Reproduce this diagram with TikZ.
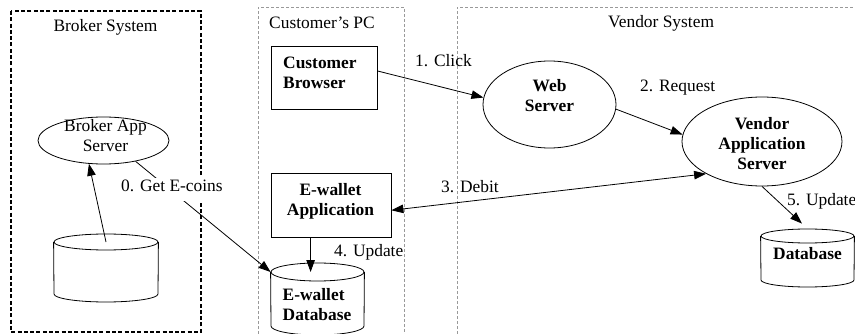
\documentclass[tikz,border=0pt]{standalone}
\usepackage{fontspec}
\setmainfont{Liberation Serif}
\usetikzlibrary{arrows.meta,shapes.geometric}
\begin{document}
\begin{tikzpicture}[x=1pt,y=-1pt,
  txt/.style={font=\fontsize{17.4}{20}\selectfont, inner sep=0pt},
  btxt/.style={inner sep=0pt, font=\fontsize{17.4}{20}\selectfont\bfseries},
  ln/.style={line width=0.8pt},
  arr/.style={ln, -{Triangle[length=12pt,width=8.5pt]}},
  darr/.style={ln, {Triangle[length=12pt,width=8.5pt]}-{Triangle[length=12pt,width=8.5pt]}},
  grayframe/.style={draw=black!40, line width=0.8pt, dash pattern=on 3pt off 2pt},
  blackframe/.style={draw=black, line width=1.5pt, dash pattern=on 4pt off 2.3pt},
  ell/.style={ellipse, draw, line width=0.8pt, inner sep=0pt},
  boxnode/.style={rectangle, draw, line width=0.8pt, inner sep=0pt},
]
\useasboundingbox (0,0) rectangle (855,334);
\clip (0,0) rectangle (855,334);

% frames
\draw[blackframe] (11,11) rectangle (201,332);
\draw[grayframe] (258,334) -- (258,7) -- (404,7) -- (404,334);
\draw[grayframe] (457,334) -- (457,7) -- (856,7);

% titles
\node[txt, anchor=base] (tbroker) at (105.5,32) {Broker System};
\node[txt, anchor=base west] (tpc) at (269,29) {Customer’s PC};
\node[txt, anchor=base west] (tvendor) at (608,28) {Vendor System};

% shapes
\node[ell, minimum width=131pt, minimum height=47pt] (bas) at (103.5,140.5) {};
\node[ell, minimum width=133pt, minimum height=87pt] (web) at (549.5,104.5) {};
\node[ell, minimum width=160pt, minimum height=89pt] (vas) at (762,141.5) {};
\node[boxnode, minimum width=106pt, minimum height=63pt] (cb) at (324,77.5) {};
\node[boxnode, minimum width=120pt, minimum height=64pt] (ewa) at (331,205) {};

% cylinders
\node[ell, minimum width=104pt, minimum height=16pt] (bdbtop) at (106,242) {};
\draw[ln] (bdbtop.west) -- (54,294) arc[start angle=180, end angle=360, x radius=52pt, y radius=8pt] -- (bdbtop.east);

\node[ell, minimum width=93pt, minimum height=18pt] (ewdbtop) at (317.5,272) {};
\draw[ln] (ewdbtop.west) -- (271,326) arc[start angle=180, end angle=360, x radius=46.5pt, y radius=9pt] -- (ewdbtop.east);

\node[ell, minimum width=93pt, minimum height=14pt] (dbtop) at (807.5,236) {};
\draw[ln] (dbtop.west) -- (761,280) arc[start angle=180, end angle=360, x radius=46.5pt, y radius=7pt] -- (dbtop.east);

% texts in shapes
\node[txt, anchor=north, align=center] (tbas) at (105.5,117) {\strut Broker App\\\strut Server};
\node[btxt, anchor=north, align=center] (tweb) at (549.5,77) {\strut Web\\\strut Server};
\node[btxt, anchor=north, align=center] (tvas) at (762,115) {\strut Vendor\\\strut Application\\\strut Server};
\node[btxt, anchor=north west, align=left] (tcb) at (283,54) {\strut Customer\\\strut Browser};
\node[btxt, anchor=north, align=center] (tewa) at (330.5,181) {\strut E-wallet\\\strut Application};
\node[btxt, anchor=north west, align=left] (tewdb) at (282.5,286) {\strut E-wallet\\\strut Database};
\node[btxt, anchor=base] (tdb) at (807.5,259) {Database};

% connectors
\draw[arr] (bdbtop.center) -- (bas.-122);
\draw[arr] (bas.-33) -- (ewdbtop.west);
\draw[arr] (cb.7) -- (web.174);
\draw[arr] (web.-4) -- (vas.175);
\draw[darr] (ewa.-5) -- (vas.210);
\draw[arr] ([xshift=40pt]ewa.south west) -- ([xshift=40pt]ewdbtop.west);
\draw[arr] (vas.south) -- ([xshift=-5.5pt,yshift=5pt]dbtop.north);

% labels
\node[txt, fill=white, anchor=base west, inner xsep=2pt, inner ysep=2pt, text depth=7pt] (l0) at (119,192) {0. Get E-coins};
\node[txt, anchor=base west] (l1) at (415,67) {1. Click};
\node[txt, anchor=base west] (l2) at (640,92) {2. Request};
\node[txt, anchor=base west] (l3) at (441,193) {3. Debit};
\node[txt, anchor=base west] (l4) at (334,257) {4. Update};
\node[txt, anchor=base west] (l5) at (787,206) {5. Update};
\end{tikzpicture}
\end{document}
